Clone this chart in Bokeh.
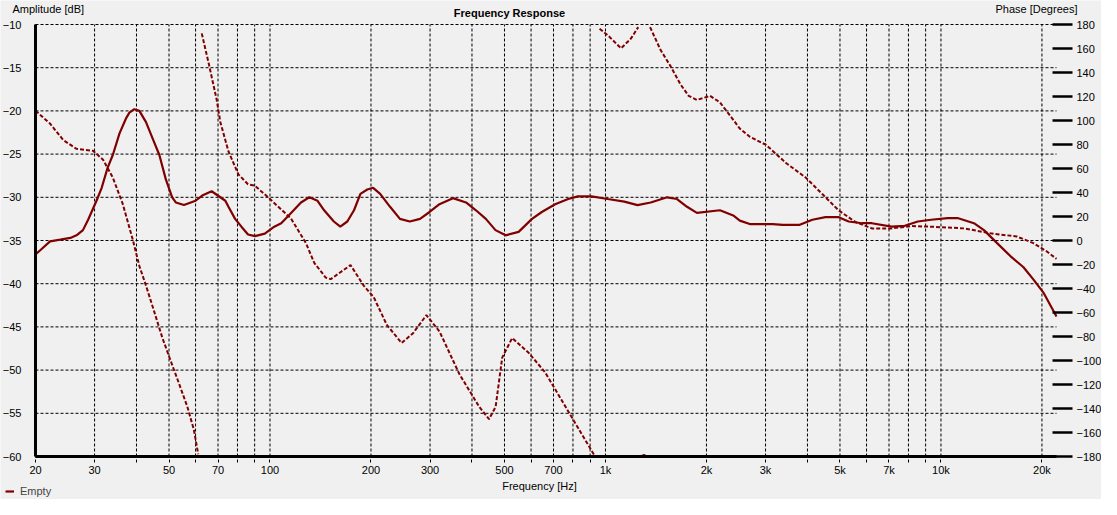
import numpy as np

from bokeh.plotting import figure
from bokeh.models import Range1d, LinearAxis, FixedTicker, Label, Legend, LegendItem
from bokeh.embed import file_html
from bokeh.resources import INLINE

# amplitude response (dB)
amp_freq = [20, 20.7, 22.1, 23.7, 25.4, 26.5, 27.7, 28.7, 30.4, 31.5, 32.8, 34.0, 35.6,
            37.3, 38.1, 39.4, 40.8, 42.7, 44.7, 46.8, 48.9, 51.1, 52.4, 55.4, 60.0, 62.8,
            67.0, 73.6, 75.2, 78.7, 82.2, 86.0, 90.2, 96.5, 103, 108, 115, 123.7, 131,
            138.6, 145, 155, 162, 170, 178, 186, 195, 203, 213, 228, 244, 261, 280, 299,
            320, 351, 384, 411, 440, 470, 504, 551, 604, 646, 708, 774, 827, 908, 1016,
            1138, 1246, 1364, 1527, 1634, 1750, 1873, 2194, 2403, 2514, 2692, 3152, 3374,
            3778, 4137, 4525, 4957, 5306, 5808, 6222, 7128, 7798, 8532, 9346, 10470,
            11200, 12540, 13430, 14700, 16100, 17620, 18850, 20180, 22100]
amp_db = [-36.6, -36.1, -35.1, -34.9, -34.7, -34.4, -33.8, -32.6, -30.4, -28.9, -26.6,
          -25.1, -22.6, -20.8, -20.2, -19.8, -20.0, -21.3, -23.2, -25.1, -27.9, -30.0,
          -30.6, -30.9, -30.4, -29.8, -29.3, -30.4, -31.1, -32.5, -33.4, -34.3, -34.5,
          -34.2, -33.4, -33.0, -31.9, -30.6, -30.0, -30.4, -31.5, -32.8, -33.4, -32.8,
          -31.5, -29.6, -29.1, -28.9, -29.6, -31.1, -32.5, -32.8, -32.5, -31.7, -30.8,
          -30.1, -30.6, -31.5, -32.5, -33.8, -34.4, -34.0, -32.5, -31.7, -30.8, -30.2,
          -29.9, -29.9, -30.2, -30.5, -30.9, -30.6, -30.0, -30.2, -31.1, -31.8, -31.5,
          -32.1, -32.7, -33.1, -33.1, -33.2, -33.2, -32.6, -32.3, -32.3, -32.8, -33.0,
          -33.0, -33.4, -33.3, -32.8, -32.6, -32.4, -32.4, -33.0, -33.8, -35.3, -36.8,
          -38.1, -39.5, -41.0, -43.8]

# phase (degrees), wrapped into -180..180, one list per visible piece
phase_freq_1 = [20, 22.1, 24.2, 26.5, 29.7, 31.8, 34.0, 36.4, 39.0, 40.8, 42.7, 45.2,
                47.8, 50.6, 53.6, 56.7, 59.3, 61.1]
phase_deg_1 = [108.2, 97.4, 83.7, 76.4, 74.7, 67.3, 52.4, 30.5, 0.6, -21.3, -37.6, -59.5,
               -81.3, -100.4, -119.5, -138.5, -157.6, -178.1]
phase_freq_2 = [62.6, 65.6, 69.3, 71.1, 75.2, 80.5, 86.0, 90.2, 98.7, 115.5, 128, 135.5,
                146.6, 151.7, 173.8, 190.3, 203.8, 223, 246.8, 267, 292.6, 320.2, 366.8,
                420.2, 449.8, 470.6, 492.2, 527, 590, 660.8, 740.4, 828.8, 928.4]
phase_deg_2 = [172.6, 148.1, 117.8, 98.8, 74.2, 55.1, 46.9, 45.6, 36.0, 18.3, -2.2, -18.6,
               -30.9, -32.2, -20.5, -37.6, -47.2, -70.4, -85.4, -77.2, -62.2, -75.9, -111.3,
               -138.5, -148.9, -138.5, -97.6, -81.3, -93.5, -109.9, -133.1, -156.3, -179.4]
phase_freq_3 = [960.4, 1016, 1113, 1191, 1252]
phase_deg_3 = [176.5, 171.0, 160.1, 168.3, 177.8]
phase_freq_4 = [1280, 1305, 1328]
phase_deg_4 = [-179.6, -178.8, -179.6]
phase_freq_5 = [1358, 1460, 1564, 1673, 1770, 1873, 2050, 2194, 2350, 2514, 2692, 3014,
                3452, 3954, 4428, 4957, 5551, 6222, 7128, 8158, 9346, 11720, 14050, 16840,
                18850, 20650, 22100]
phase_deg_5 = [177.8, 158.7, 145.1, 130.1, 120.5, 117.2, 120.5, 115.1, 104.2, 93.3, 86.5,
               79.6, 64.6, 52.4, 38.7, 25.1, 15.5, 10.1, 10.1, 12.0, 11.5, 10.1, 6.0, 3.3,
               -2.2, -9.0, -15.3]

freq_ticks = [20, 30, 40, 50, 60, 70, 80, 90, 100, 200, 300, 400, 500, 600, 700, 800, 900,
              1000, 2000, 3000, 4000, 5000, 6000, 7000, 8000, 9000, 10000, 20000]
freq_labels = {20: "20", 30: "30", 50: "50", 70: "70", 100: "100", 200: "200", 300: "300",
               500: "500", 700: "700", 1000: "1k", 2000: "2k", 3000: "3k", 5000: "5k",
               7000: "7k", 10000: "10k", 20000: "20k"}
amp_ticks = [-60, -55, -50, -45, -40, -35, -30, -25, -20, -15, -10]
phase_ticks = [-180, -160, -140, -120, -100, -80, -60, -40, -20, 0, 20, 40, 60, 80, 100,
               120, 140, 160, 180]

F_MIN, F_MAX = 20, 22100
DB_MIN, DB_MAX = -60, -10
PH_MIN, PH_MAX = -180, 180

RED = "#800000"
BG = "#f0f0f0"
FONT = "Liberation Sans"

# the Bokeh frame fills the whole canvas; the chart box sits inside it
W, H = 1101, 499
BOX_L, BOX_R, BOX_T, BOX_B = 35, 1056, 24, 456
dec_per_px = np.log10(F_MAX / F_MIN) / (BOX_R - BOX_L)
db_per_px = (DB_MAX - DB_MIN) / (BOX_B - BOX_T)
deg_per_px = (PH_MAX - PH_MIN) / (BOX_B - BOX_T)

x_range = Range1d(F_MIN * 10 ** (-BOX_L * dec_per_px), F_MAX * 10 ** ((W - BOX_R) * dec_per_px))
y_range = Range1d(DB_MIN - (H - BOX_B) * db_per_px, DB_MAX + BOX_T * db_per_px)

p = figure(width=W, height=H, x_axis_type="log", x_range=x_range, y_range=y_range,
           output_backend="svg", toolbar_location=None, min_border=0,
           background_fill_color=BG, border_fill_color=BG, outline_line_color=None)
p.extra_y_ranges = {"phase": Range1d(PH_MIN - (H - BOX_B) * deg_per_px, PH_MAX + BOX_T * deg_per_px)}
p.xgrid.visible = False
p.ygrid.visible = False

# dashed grid inside the chart box
p.segment(x0=F_MIN, x1=F_MAX, y0=amp_ticks, y1=amp_ticks, line_color="black",
          line_width=1, line_dash="3 2")
p.segment(x0=freq_ticks, x1=freq_ticks, y0=DB_MIN, y1=DB_MAX, line_color="black",
          line_width=1, line_dash="3 2")

# bottom axis
xa = p.xaxis[0]
xa.fixed_location = DB_MIN
xa.bounds = (F_MIN, F_MAX)
xa.ticker = FixedTicker(ticks=freq_ticks)
xa.major_label_overrides = {t: freq_labels.get(t, "") for t in freq_ticks}
xa.minor_tick_line_color = None
xa.major_tick_in = 0
xa.major_tick_out = 6
xa.major_tick_line_dash = "3 2"
xa.axis_line_width = 3
xa.major_label_standoff = 1

# left axis
ya = p.yaxis[0]
ya.fixed_location = F_MIN
ya.bounds = (DB_MIN, DB_MAX)
ya.ticker = FixedTicker(ticks=amp_ticks)
ya.major_tick_in = 0
ya.major_tick_out = 0
ya.minor_tick_line_color = None
ya.axis_line_width = 3
ya.major_label_standoff = 14

# right (phase) axis
ra = LinearAxis(y_range_name="phase", ticker=FixedTicker(ticks=phase_ticks))
ra.fixed_location = F_MAX
ra.bounds = (PH_MIN, PH_MAX)
ra.axis_line_color = None
ra.major_tick_in = 4
ra.major_tick_out = 16
ra.major_tick_line_width = 2.5
ra.minor_tick_line_color = None
ra.major_label_standoff = 4
p.add_layout(ra, "right")

for ax in (xa, ya, ra):
    ax.major_label_text_font = FONT
    ax.major_label_text_font_size = "11px"
    ax.major_label_text_color = "black"
    ax.major_tick_line_color = "black"

amp = p.line(amp_freq, amp_db, line_color=RED, line_width=2.2)
p.multi_line([phase_freq_1, phase_freq_2, phase_freq_3, phase_freq_4, phase_freq_5],
             [phase_deg_1, phase_deg_2, phase_deg_3, phase_deg_4, phase_deg_5],
             y_range_name="phase", line_color=RED, line_width=2, line_dash="4 2")

# texts, in canvas pixels from the top-left corner
def add_text(text, x, y, align="left", bold=False):
    p.add_layout(Label(x=x, y=H - y, x_units="screen", y_units="screen", text=text,
                       text_font=FONT, text_font_size="11px", text_align=align,
                       text_baseline="middle", text_color="black",
                       text_font_style="bold" if bold else "normal"))

add_text("Amplitude [dB]", 12, 8)
add_text("Frequency Response", 509, 12, align="center", bold=True)
add_text("Phase [Degrees]", 995, 8)
add_text("Frequency [Hz]", 539, 485, align="center")

legend = Legend(items=[LegendItem(label="Empty", renderers=[amp])], location=(5, 2),
                label_text_font=FONT, label_text_font_size="11px", glyph_width=9,
                glyph_height=12, label_height=12, padding=0, margin=0, spacing=0,
                label_standoff=6, border_line_color=None, background_fill_alpha=0)
p.add_layout(legend)

open("out.html", "w").write(file_html(p, INLINE))
